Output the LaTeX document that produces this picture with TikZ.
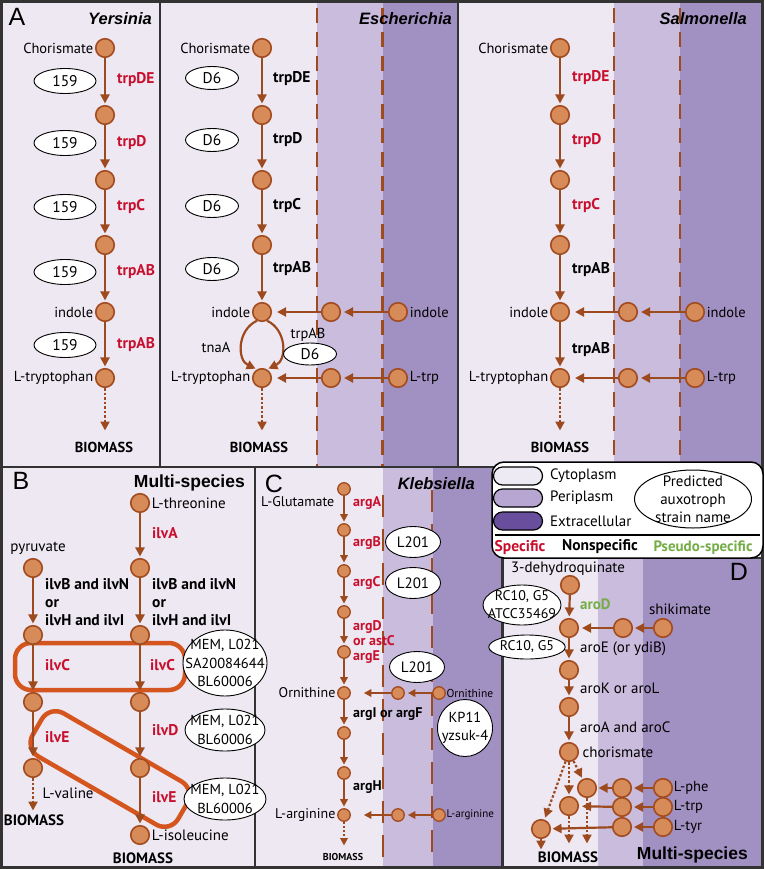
\documentclass[tikz,border=0pt]{standalone}
\usepackage{fontspec}
\setmainfont{PT Sans}
\newfontfamily\titlefont{Liberation Sans}
\usetikzlibrary{arrows.meta,shapes.geometric}
\definecolor{cyto}{HTML}{EDE8F2}
\definecolor{peri}{HTML}{C9BCDC}
\definecolor{extra}{HTML}{A190C2}
\definecolor{nodef}{HTML}{D68B58}
\definecolor{nodeb}{HTML}{A24B1F}
\definecolor{arr}{HTML}{9E4A1F}
\definecolor{spec}{HTML}{C8102E}
\definecolor{pseudo}{HTML}{74AC46}
\definecolor{hl}{HTML}{D4561E}
\definecolor{frame}{HTML}{333333}
\definecolor{legcyto}{HTML}{EEEAF4}
\definecolor{legperi}{HTML}{B7A6D2}
\definecolor{legext}{HTML}{6A4E9E}
\begin{document}
\begin{tikzpicture}[x=1pt,y=-1pt,
 met/.style={circle,draw=nodeb,fill=nodef,line width=1.6pt,minimum size=18.5pt,inner sep=0pt},
 smet/.style={met,minimum size=12.5pt,line width=1.3pt},
 rx/.style={draw=arr,line width=2.2pt,-{Triangle[length=9pt,width=9pt]},shorten >=1.5pt},
 srx/.style={draw=arr,line width=1.8pt,-{Triangle[length=7.5pt,width=7.5pt]},shorten >=1.5pt},
 dotrx/.style={rx,dash pattern=on 2.5pt off 2pt},
 sdotrx/.style={srx,dash pattern=on 2.2pt off 1.8pt},
 strain/.style={ellipse,draw=black,fill=white,line width=0.9pt,inner sep=0pt,font=\fontsize{15.5}{17}\selectfont},
 stext/.style={font=\fontsize{14.5}{18.3}\selectfont,align=center,inner sep=0pt},
 lbl/.style={font=\fontsize{14.5}{16}\selectfont,inner sep=1.5pt},
 gs/.style={font=\fontsize{15.5}{17}\selectfont\bfseries,text=spec,inner sep=0pt,anchor=west},
 gn/.style={gs,text=black},
 gp/.style={gs,text=pseudo},
 bio/.style={font=\fontsize{14.5}{16}\selectfont\bfseries,inner sep=0pt},
 ttl/.style={font=\titlefont\fontsize{16.5}{19}\selectfont\bfseries\itshape,anchor=east,inner sep=0pt},
 mspec/.style={font=\titlefont\fontsize{17.5}{20}\selectfont\bfseries,anchor=east,inner sep=0pt},
 plet/.style={font=\titlefont\fontsize{25}{28}\selectfont,inner sep=0pt},
 memb/.style={draw=arr,line width=2.5pt,dash pattern=on 15pt off 9pt},
 frm/.style={draw=frame,line width=2.2pt},
 hlbox/.style={draw=hl,line width=4.5pt,rounded corners=16pt},
 pill/.style={rectangle,rounded corners=9pt,draw=black,line width=1.2pt,minimum width=49pt,minimum height=18pt},
 lg/.style={font=\fontsize{15}{18}\selectfont,inner sep=0pt}
]
\useasboundingbox (0,0) rectangle (764,869);
% ---------------- backgrounds
\fill[cyto] (0,0) rectangle (764,869);
\fill[peri] (317,2) rectangle (383,467);
\fill[extra] (383,2) rectangle (458,467);
\fill[peri] (614,2) rectangle (680,467);
\fill[extra] (680,2) rectangle (762,467);
\fill[peri] (383,467) rectangle (433,867);
\fill[extra] (433,467) rectangle (502,867);
\fill[cyto] (503,558) rectangle (598,867);
\fill[peri] (598,558) rectangle (643,867);
\fill[extra] (643,558) rectangle (762,867);
% membranes
\draw[memb] (317,8) -- (317,467);
\draw[memb] (382.5,8) -- (382.5,467);
\draw[memb] (614,8) -- (614,467);
\draw[memb] (680,8) -- (680,467);
\draw[memb,dash pattern=on 22pt off 12pt] (383,495) -- (383,860);
\draw[memb,dash pattern=on 22pt off 12pt] (432,490) -- (432,860);
% frames
\draw[frm] (0,467) -- (764,467);
\draw[frm] (160,0) -- (160,467);
\draw[frm] (458,0) -- (458,467);
\draw[frm] (255,467) -- (255,869);
\draw[frm] (502.5,558) -- (502.5,869);
\draw[frm] (502,558) -- (764,558);
\draw[frame,line width=3pt] (1.5,1.5) rectangle (762.5,867.5);

% ================= Panel A
\node[plet] (A) at (17,17) {A};
\node[ttl] (tY) at (152,19) {Yersinia};
\node[ttl] (tE) at (452,19) {Escherichia};
\node[ttl] (tS) at (747,19) {Salmonella};

% Yersinia
\node[met] (y1) at (105,48) {};
\node[met] (y2) at (105,115) {};
\node[met] (y3) at (105,180) {};
\node[met] (y4) at (105,245) {};
\node[met] (y5) at (105,312) {};
\node[met] (y6) at (105,378) {};
\coordinate (yb) at (105,432);
\draw[rx] (y1) -- (y2);
\draw[rx] (y2) -- (y3);
\draw[rx] (y3) -- (y4);
\draw[rx] (y4) -- (y5);
\draw[rx] (y5) -- (y6);
\draw[dotrx] (y6) -- (yb);
\node[lbl,anchor=east] (yl1) at (y1.west) {Chorismate};
\node[lbl,anchor=east] (yl5) at (y5.west) {indole};
\node[lbl,anchor=east] (yl6) at (y6.west) {L-tryptophan};
\node[bio] (ybio) at (104,447) {BIOMASS};
\node[gs] (yg1) at (117,80) {trpDE};
\node[gs] (yg2) at (117,143) {trpD};
\node[gs] (yg3) at (117,207) {trpC};
\node[gs] (yg4) at (117,272) {trpAB};
\node[gs] (yg5) at (117,345) {trpAB};
\node[strain,minimum width=62pt,minimum height=25pt] (ys1) at (65,81) {159};
\node[strain,minimum width=62pt,minimum height=25pt] (ys2) at (65,143) {159};
\node[strain,minimum width=62pt,minimum height=25pt] (ys3) at (65,207) {159};
\node[strain,minimum width=62pt,minimum height=25pt] (ys4) at (65,272) {159};
\node[strain,minimum width=62pt,minimum height=25pt] (ys5) at (65,345) {159};

% Escherichia
\node[met] (e1) at (262,48) {};
\node[met] (e2) at (262,115) {};
\node[met] (e3) at (262,180) {};
\node[met] (e4) at (262,245) {};
\node[met] (e5) at (262,312) {};
\node[met] (e6) at (262,378) {};
\node[met] (ep1) at (331,312) {};
\node[met] (ee1) at (398,312) {};
\node[met] (ep2) at (331,378) {};
\node[met] (ee2) at (398,378) {};
\coordinate (eb) at (262,432);
\draw[rx] (e1) -- (e2);
\draw[rx] (e2) -- (e3);
\draw[rx] (e3) -- (e4);
\draw[rx] (e4) -- (e5);
\draw[rx] (e5.240) .. controls (237,330) and (237,360) .. (e6.120);
\draw[rx] (e5.300) .. controls (287,330) and (287,360) .. (e6.60);
\draw[rx,shorten >=3pt] (ee1) -- (ep1);
\draw[rx,shorten >=5pt] (ep1) -- (e5);
\draw[rx,shorten >=3pt] (ee2) -- (ep2);
\draw[rx,shorten >=5pt] (ep2) -- (e6);
\draw[dotrx] (e6) -- (eb);
\node[lbl,anchor=east] (el1) at (e1.west) {Chorismate};
\node[lbl,anchor=east] (el5) at (e5.west) {indole};
\node[lbl,anchor=east] (el6) at (e6.west) {L-tryptophan};
\node[lbl,anchor=west] (eel1) at (ee1.east) {indole};
\node[lbl,anchor=west] (eel2) at (ee2.east) {L-trp};
\node[bio] (ebio) at (259,447) {BIOMASS};
\node[gn] (eg1) at (273,79) {trpDE};
\node[gn] (eg2) at (273,140) {trpD};
\node[gn] (eg3) at (273,206) {trpC};
\node[gn] (eg4) at (273,269) {trpAB};
\node[lbl] (etna) at (216,347) {tnaA};
\node[lbl] (etab) at (308,335) {trpAB};
\node[strain,minimum width=53pt,minimum height=23pt] (es1) at (212,78) {D6};
\node[strain,minimum width=53pt,minimum height=23pt] (es2) at (212,140) {D6};
\node[strain,minimum width=53pt,minimum height=23pt] (es3) at (212,206) {D6};
\node[strain,minimum width=53pt,minimum height=23pt] (es4) at (212,269) {D6};
\node[strain,minimum width=53pt,minimum height=22pt] (es5) at (310,354) {D6};

% Salmonella
\node[met] (s1) at (560,48) {};
\node[met] (s2) at (560,115) {};
\node[met] (s3) at (560,180) {};
\node[met] (s4) at (560,245) {};
\node[met] (s5) at (560,312) {};
\node[met] (s6) at (560,378) {};
\node[met] (sp1) at (628,312) {};
\node[met] (se1) at (695,312) {};
\node[met] (sp2) at (628,378) {};
\node[met] (se2) at (695,378) {};
\coordinate (sb) at (560,432);
\draw[rx] (s1) -- (s2);
\draw[rx] (s2) -- (s3);
\draw[rx] (s3) -- (s4);
\draw[rx] (s4) -- (s5);
\draw[rx] (s5) -- (s6);
\draw[rx,shorten >=3pt] (se1) -- (sp1);
\draw[rx,shorten >=5pt] (sp1) -- (s5);
\draw[rx,shorten >=3pt] (se2) -- (sp2);
\draw[rx,shorten >=5pt] (sp2) -- (s6);
\draw[dotrx] (s6) -- (sb);
\node[lbl,anchor=east] (sl1) at (s1.west) {Chorismate};
\node[lbl,anchor=east] (sl5) at (s5.west) {indole};
\node[lbl,anchor=east] (sl6) at (s6.west) {L-tryptophan};
\node[lbl,anchor=west] (sel1) at (se1.east) {indole};
\node[lbl,anchor=west] (sel2) at (se2.east) {L-trp};
\node[bio] (sbio) at (560,447) {BIOMASS};
\node[gs] (sg1) at (572,78) {trpDE};
\node[gs] (sg2) at (572,141) {trpD};
\node[gs] (sg3) at (572,206) {trpC};
\node[gn] (sg4) at (572,270) {trpAB};
\node[gn] (sg5) at (572,350) {trpAB};

% ================= Panel B
\node[plet] (B) at (21,481) {B};
\node[mspec] (tB) at (245,483) {Multi-species};
\draw[hlbox] (15,643) rectangle (185,690);
\node[hlbox,rotate=-30,minimum width=168pt,minimum height=50pt] (ebox) at (110,769) {};
\node[met] (bt) at (140,503) {};
\node[met] (bp) at (33,568) {};
\node[met] (bt2) at (140,568) {};
\node[met] (bl3) at (33,635) {};
\node[met] (br3) at (140,635) {};
\node[met] (bl4) at (33,702) {};
\node[met] (br4) at (140,702) {};
\node[met] (bl5) at (33,768) {};
\node[met] (br5) at (140,768) {};
\node[met] (bri) at (140,835) {};
\coordinate (bvb) at (33,812);
\draw[rx] (bt) -- (bt2);
\draw[rx] (bp) -- (bl3);
\draw[rx] (bt2) -- (br3);
\draw[rx] (bl3) -- (bl4);
\draw[rx] (br3) -- (br4);
\draw[rx] (bl4) -- (bl5);
\draw[rx] (br4) -- (br5);
\draw[rx] (br5) -- (bri);
\draw[dotrx] (bl5) -- (bvb);
\node[lbl,anchor=west,font=\fontsize{15}{16}\selectfont] (blt) at (bt.east) {L-threonine};
\node[lbl,font=\fontsize{15}{16}\selectfont] (blp) at (38,548) {pyruvate};
\node[lbl,anchor=west,font=\fontsize{15}{16}\selectfont] (blv) at (41,793) {L-valine};
\node[lbl,anchor=west,font=\fontsize{15}{16}\selectfont] (bli) at (bri.east) {L-isoleucine};
\node[bio,font=\fontsize{15}{16}\selectfont\bfseries] (bbio1) at (34,820) {BIOMASS};
\node[bio,font=\fontsize{15}{16}\selectfont\bfseries] (bbio2) at (143,858) {BIOMASS};
\node[gs,font=\fontsize{15.5}{16}\selectfont\bfseries] (bgA) at (152,533) {ilvA};
\node[gn,align=left,font=\fontsize{15.5}{18.3}\selectfont\bfseries] (bgBl) at (45,602) {ilvB and ilvN\\or\\ilvH and ilvI};
\node[gn,align=left,font=\fontsize{15.5}{18.3}\selectfont\bfseries] (bgBr) at (152,602) {ilvB and ilvN\\or\\ilvH and ilvI};
\node[gs,font=\fontsize{15.5}{16}\selectfont\bfseries] (bgCl) at (45,665) {ilvC};
\node[gs,font=\fontsize{15.5}{16}\selectfont\bfseries] (bgCr) at (150,665) {ilvC};
\node[gs,font=\fontsize{15.5}{16}\selectfont\bfseries] (bgEl) at (45,737) {ilvE};
\node[gs,font=\fontsize{15.5}{16}\selectfont\bfseries] (bgD) at (152,730) {ilvD};
\node[gs,font=\fontsize{15.5}{16}\selectfont\bfseries] (bgEr) at (152,797) {ilvE};
\node[strain,minimum width=84pt,minimum height=66pt,label={[stext]center:{MEM, L021\\SA20084644\\BL60006}}] (bs1) at (225,663) {};
\node[strain,minimum width=80pt,minimum height=42pt,label={[stext]center:{MEM, L021\\BL60006}}] (bs2) at (225,730) {};
\node[strain,minimum width=82pt,minimum height=42pt,label={[stext]center:{MEM, L021\\BL60006}}] (bs3) at (225,799) {};

% ================= Panel C
\node[plet] (C) at (274,484) {C};
\node[ttl] (tK) at (475,484) {Klebsiella};
\node[smet] (c1) at (344,489) {};
\node[smet] (c2) at (344,530) {};
\node[smet] (c3) at (344,571) {};
\node[smet] (c4) at (344,612) {};
\node[smet] (c5) at (344,652) {};
\node[smet] (c6) at (344,693) {};
\node[smet] (c7) at (344,733) {};
\node[smet] (c8) at (344,773) {};
\node[smet] (c9) at (344,815) {};
\node[smet] (cp1) at (398,693) {};
\node[smet] (ce1) at (439,693) {};
\node[smet] (cp2) at (398,815) {};
\node[smet] (ce2) at (439,815) {};
\coordinate (cb) at (344,847);
\draw[srx] (c1) -- (c2);
\draw[srx] (c2) -- (c3);
\draw[srx] (c3) -- (c4);
\draw[srx] (c4) -- (c5);
\draw[srx] (c5) -- (c6);
\draw[srx] (c6) -- (c7);
\draw[srx] (c7) -- (c8);
\draw[srx] (c8) -- (c9);
\draw[srx,shorten >=3pt] (ce1) -- (cp1);
\draw[srx,shorten >=13pt] (cp1) -- (c6);
\draw[srx,shorten >=3pt] (ce2) -- (cp2);
\draw[srx,shorten >=13pt] (cp2) -- (c9);
\draw[sdotrx] (c9) -- (cb);
\node[lbl,anchor=east,font=\fontsize{14}{15}\selectfont] (cl1) at (336,502) {L-Glutamate};
\node[lbl,anchor=east,font=\fontsize{14}{15}\selectfont] (cl6) at (c6.west) {Ornithine};
\node[lbl,anchor=east,font=\fontsize{14}{15}\selectfont] (cl9) at (c9.west) {L-arginine};
\node[lbl,anchor=west,font=\fontsize{11.5}{13}\selectfont,inner sep=0.5pt] (cel1) at (ce1.east) {Ornithine};
\node[lbl,anchor=west,font=\fontsize{11}{13}\selectfont,inner sep=0.5pt] (cel2) at (ce2.east) {L-arginine};
\node[bio,font=\fontsize{10}{11}\selectfont\bfseries] (cbio) at (343,857) {BIOMASS};
\node[gs,font=\fontsize{14}{15}\selectfont\bfseries] (cgA) at (353,503) {argA};
\node[gs,font=\fontsize{14}{15}\selectfont\bfseries] (cgB) at (353,543) {argB};
\node[gs,font=\fontsize{14}{15}\selectfont\bfseries] (cgC) at (353,583) {argC};
\node[gs,align=left,font=\fontsize{14}{15}\selectfont\bfseries] (cgD) at (353,633.5) {argD\\or astC};
\node[gs,font=\fontsize{14}{15}\selectfont\bfseries] (cgE) at (353,657) {argE};
\node[gn,font=\fontsize{14}{15}\selectfont\bfseries] (cgI) at (353,714) {argI or argF};
\node[gn,font=\fontsize{14}{15}\selectfont\bfseries] (cgH) at (353,787) {argH};
\node[strain,minimum width=55pt,minimum height=31pt,font=\fontsize{15}{16}\selectfont] (cs1) at (413,542) {L201};
\node[strain,minimum width=55pt,minimum height=31pt,font=\fontsize{15}{16}\selectfont] (cs2) at (413,583) {L201};
\node[strain,minimum width=55pt,minimum height=31pt,font=\fontsize{15}{16}\selectfont] (cs3) at (417,667) {L201};
\node[strain,minimum width=55pt,minimum height=57pt,label={[stext]center:{KP11\\yzsuk-4}}] (cs4) at (465,728) {};

% ================= Panel D
\node[plet] (D) at (739,572) {D};
\node[mspec] (tD) at (748,855) {Multi-species};
\node[met] (d1) at (570,585) {};
\node[met] (d2) at (569,628) {};
\node[met] (dp1) at (623,628) {};
\node[met] (de1) at (663,628) {};
\node[met] (d3) at (569,670) {};
\node[met] (d4) at (569,707) {};
\node[met] (dch) at (569,752) {};
\node[met] (dphe) at (587,788) {};
\node[met] (dtrp) at (569,806) {};
\node[met] (dtyr) at (541,829) {};
\node[met] (dpp) at (622,788) {};
\node[met] (dep) at (663,788) {};
\node[met] (dpt) at (622,807) {};
\node[met] (det) at (663,807) {};
\node[met] (dpy) at (622,827) {};
\node[met] (dey) at (663,827) {};
\coordinate (dbphe) at (587,845);
\coordinate (dbtrp) at (569,845);
\coordinate (dbtyr) at (541,851);
\draw[rx] (d1) -- (d2);
\draw[rx] (d2) -- (d3);
\draw[rx] (d3) -- (d4);
\draw[rx] (d4) -- (dch);
\draw[rx,shorten >=2pt] (de1) -- (dp1);
\draw[rx,shorten >=3pt] (dp1) -- (d2);
\draw[dotrx,shorten >=2pt] (dch) -- (dtyr);
\draw[dotrx] (dch) -- (dtrp);
\draw[dotrx] (dch) -- (dphe);
\draw[rx,shorten >=2pt] (dep) -- (dpp);
\draw[rx] (dpp) -- (dphe);
\draw[rx,shorten >=2pt] (det) -- (dpt);
\draw[rx,shorten >=3pt] (dpt) -- (dtrp);
\draw[rx,shorten >=2pt] (dey) -- (dpy);
\draw[rx] (dpy) -- (dtyr);
\draw[dotrx] (dphe) -- (dbphe);
\draw[dotrx] (dtrp) -- (dbtrp);
\draw[dotrx] (dtyr) -- (dbtyr);
\node[lbl,font=\fontsize{15}{16}\selectfont] (dl1) at (568,569) {3-dehydroquinate};
\node[lbl,font=\fontsize{15}{16}\selectfont] (dls) at (680,609) {shikimate};
\node[lbl,anchor=west,font=\fontsize{15}{16}\selectfont] (dlc) at (581,752) {chorismate};
\node[lbl,anchor=west,font=\fontsize{14.5}{16}\selectfont,inner sep=0.5pt] (dlp) at (dep.east) {L-phe};
\node[lbl,anchor=west,font=\fontsize{14.5}{16}\selectfont,inner sep=0.5pt] (dlt) at (det.east) {L-trp};
\node[lbl,anchor=west,font=\fontsize{14.5}{16}\selectfont,inner sep=0.5pt] (dly) at (dey.east) {L-tyr};
\node[gp,font=\fontsize{15}{16}\selectfont\bfseries] (dgD) at (580,604) {aroD};
\node[lbl,anchor=west,font=\fontsize{15}{16}\selectfont,inner sep=0pt] (dgE) at (580,649) {aroE (or ydiB)};
\node[lbl,anchor=west,font=\fontsize{15}{16}\selectfont,inner sep=0pt] (dgK) at (580,688) {aroK or aroL};
\node[lbl,anchor=west,font=\fontsize{15}{16}\selectfont,inner sep=0pt] (dgA) at (580,727) {aroA and aroC};
\node[bio,font=\fontsize{15}{16}\selectfont\bfseries] (dbio) at (568,857) {BIOMASS};
\node[strain,minimum width=78pt,minimum height=40pt,label={[stext,font=\fontsize{14}{18}\selectfont]center:{RC10, G5\\ATCC35469}}] (ds1) at (522,605) {};
\node[strain,minimum width=64pt,minimum height=24pt,font=\fontsize{14}{16}\selectfont] (ds2) at (527,647) {RC10, G5};

% ================= Legend
\draw[draw=black,fill=white,line width=1.5pt,rounded corners=12pt] (492,462) rectangle (763,558);
\node[pill,fill=legcyto] (lc) at (518,476) {};
\node[pill,fill=legperi] (lp) at (518,498) {};
\node[pill,fill=legext] (le) at (518,521) {};
\node[lg,anchor=west] (lct) at (550,476) {Cytoplasm};
\node[lg,anchor=west] (lpt) at (550,498) {Periplasm};
\node[lg,anchor=west] (let) at (550,521) {Extracellular};
\node[ellipse,draw=black,fill=white,line width=1pt,minimum width=117pt,minimum height=58pt,inner sep=0pt,label={[lg,align=center]center:{Predicted\\auxotroph\\strain name}}] (lpe) at (693,499) {};
\draw[black,line width=1.2pt] (495,535) -- (760,535);
\node[lg,font=\fontsize{15.5}{16}\selectfont\bfseries,text=spec] (lsp) at (520,548) {Specific};
\node[lg,font=\fontsize{15.5}{16}\selectfont\bfseries] (lns) at (600,547) {Nonspecific};
\node[lg,font=\fontsize{15}{16}\selectfont\bfseries,text=pseudo] (lps) at (703,548) {Pseudo-specific};
\end{tikzpicture}
\end{document}
